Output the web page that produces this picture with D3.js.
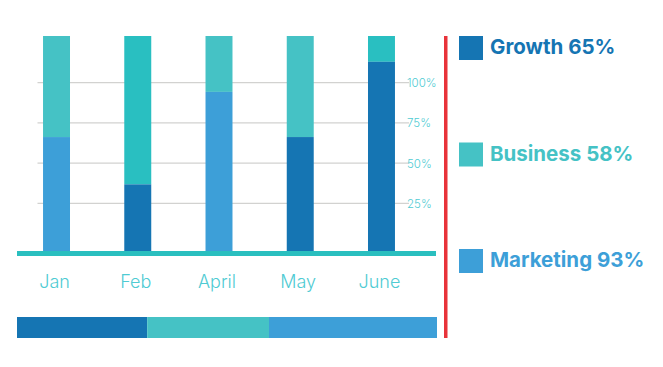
<!DOCTYPE html>
<html>
<head>
<meta charset="utf-8">
<script src="https://cdn.jsdelivr.net/npm/d3@7/dist/d3.min.js"></script>
<style>
html,body{margin:0;padding:0;background:#fff;}
svg{display:block;}
</style>
</head>
<body>
<svg id="chart" width="663" height="367"></svg>
<script>
// ---- data ----
const months = ["Jan", "Feb", "April", "May", "June"];
const lowerSeries = ["Marketing", "Growth", "Marketing", "Growth", "Growth"];
const lowerValues = [53, 31, 74, 53, 88];          // % of bar height
const upperSeries = ["Business", "Business alt", "Business", "Business", "Business alt"];
const gridTicks = [25, 50, 75, 100];
const tickLabels = ["25%", "50%", "75%", "100%"];
const legendNames = ["Growth", "Business", "Marketing"];
const legendValues = [65, 58, 93];
const summaryShares = [31, 29, 40];

// ---- styles ----
const colors = {
  "Growth": "#1575b3",
  "Business": "#45c2c5",
  "Business alt": "#29bfc1",
  "Marketing": "#3d9fd8"
};
const labelColor = "#4fcbd3";

const svg = d3.select("#chart");

// scales
const x = d3.scaleBand().domain(months).range([15.9, 422.1]).paddingInner(0.668).paddingOuter(0.334);
const yBar = d3.scaleLinear().domain([0, 100]).range([251, 36]);
const yGrid = d3.scaleLinear().domain([0, 100]).range([243.5, 82.7]);

// gridlines
svg.append("g").selectAll("line").data(gridTicks).join("line")
  .attr("x1", 37.5).attr("x2", 409)
  .attr("y1", d => yGrid(d)).attr("y2", d => yGrid(d))
  .attr("stroke", "#d2d2d0").attr("stroke-width", 1.3);

// tick labels (right side)
const axis = d3.axisRight(yGrid).tickValues(gridTicks).tickSize(0).tickPadding(0)
  .tickFormat((d, i) => tickLabels[i]);
const gAxis = svg.append("g").attr("transform", "translate(407,0)").call(axis);
gAxis.select(".domain").remove();
gAxis.selectAll("text").attr("fill", labelColor).attr("font-family", "Inter, 'Open Sans', sans-serif")
  .attr("font-size", 11.5).attr("font-weight", 300).attr("dy", "0.35em");

// bars
const bars = months.map((m, i) => ({m, lower: lowerValues[i], ls: lowerSeries[i], us: upperSeries[i]}));
const gb = svg.append("g");
gb.selectAll("rect.up").data(bars).join("rect").attr("class", "up")
  .attr("x", d => x(d.m)).attr("width", x.bandwidth())
  .attr("y", yBar(100)).attr("height", d => yBar(d.lower) - yBar(100))
  .attr("fill", d => colors[d.us]);
gb.selectAll("rect.lo").data(bars).join("rect").attr("class", "lo")
  .attr("x", d => x(d.m)).attr("width", x.bandwidth())
  .attr("y", d => yBar(d.lower)).attr("height", d => yBar(0) - yBar(d.lower))
  .attr("fill", d => colors[d.ls]);

// baseline band
svg.append("rect").attr("x", 17).attr("y", 251).attr("width", 419).attr("height", 5).attr("fill", "#2abfbf");

// month labels
svg.append("g").selectAll("text").data(months).join("text")
  .attr("x", d => x(d) + x.bandwidth() / 2 - 2).attr("y", 288)
  .attr("text-anchor", "middle")
  .attr("fill", labelColor)
  .attr("font-family", "Inter, 'Open Sans', sans-serif").attr("font-weight", 300).attr("font-size", 18)
  .text(d => d);

// summary bar
const total = d3.sum(summaryShares);
const xs = d3.scaleLinear().domain([0, total]).range([17, 437]);
let acc = 0;
const segs = summaryShares.map((v, i) => { const s = {start: acc, end: acc + v, name: legendNames[i]}; acc += v; return s; });
svg.append("g").selectAll("rect").data(segs).join("rect")
  .attr("x", d => xs(d.start)).attr("width", d => xs(d.end) - xs(d.start))
  .attr("y", 317).attr("height", 21)
  .attr("fill", d => colors[d.name]);

// red divider
svg.append("rect").attr("x", 444).attr("y", 36).attr("width", 3.5).attr("height", 302).attr("fill", "#e8333a");

// legend
const ly = d3.scalePoint().domain(legendNames).range([36, 249]);
const lg = svg.append("g").selectAll("g").data(legendNames).join("g")
  .attr("transform", d => `translate(459,${ly(d)})`);
lg.append("rect").attr("width", 24).attr("height", 24).attr("fill", d => colors[d]);
lg.append("text").attr("x", 31).attr("y", 18)
  .attr("fill", d => colors[d])
  .attr("font-family", "Inter, 'Open Sans', sans-serif").attr("font-weight", 700).attr("font-size", 20.5)
  .text((d, i) => `${d} ${legendValues[i]}%`);
</script>
</body>
</html>
